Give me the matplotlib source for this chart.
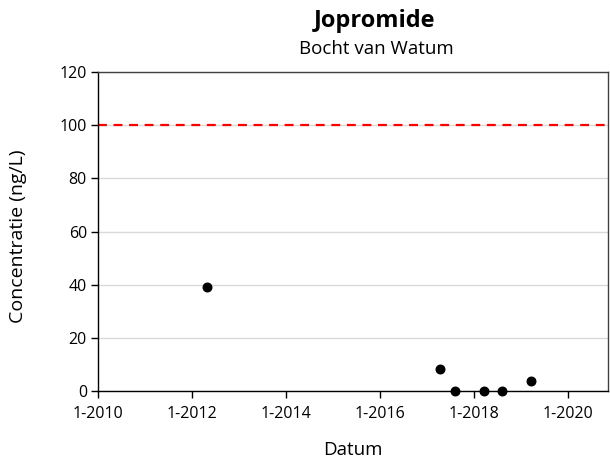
import matplotlib
matplotlib.use("Agg")
import matplotlib.pyplot as plt
import pandas as pd

plt.rcParams['font.family'] = ['Open Sans', 'DejaVu Sans']

dates = pd.to_datetime(["2012-04-25", "2017-04-15", "2017-08-10", "2018-03-25", "2018-08-10", "2019-03-25"])
values = [39.0, 8.3, 0.0, 0.0, 0.0, 3.6]
norm_value = 100
y_ticks = [0, 20, 40, 60, 80, 100, 120]
x_tick_years = [2010, 2012, 2014, 2016, 2018, 2020]

fig = plt.figure(figsize=(6.10, 4.62), dpi=100)
ax = fig.add_axes([98/610, 1-391/462, (608-98)/610, (391-72)/462])

ax.set_ylim(0, 120)
ax.set_xlim(pd.Timestamp("2010-01-01"), pd.Timestamp("2020-11-10"))
ax.set_yticks(y_ticks)
ax.yaxis.grid(True, color='#d9d9d9', linewidth=1)
ax.set_axisbelow(True)

xt = [pd.Timestamp(f"{y}-01-01") for y in x_tick_years]
ax.set_xticks(xt)
ax.set_xticklabels([f"1-{y}" for y in x_tick_years])

ax.axhline(norm_value, color='#ff0000', linestyle=(0, (4, 3)), linewidth=1.6, zorder=2)
ax.scatter(dates, values, s=38, color='black', zorder=3, clip_on=False)

for s in ax.spines.values():
    s.set_color('#404040')
    s.set_linewidth(1.0)
ax.spines['left'].set_color('black')
ax.spines['bottom'].set_color('black')
ax.tick_params(axis='both', direction='out', length=5, width=1, labelsize=11.5, colors='black', pad=3)
ax.tick_params(axis='x', pad=6)

ax.set_ylabel("Concentratie (ng/L)", fontsize=14, labelpad=8)
ax.set_xlabel("Datum", fontsize=13.5, labelpad=14)
ax.yaxis.set_label_coords(-(98-18)/510, 0.485)
ax.xaxis.set_label_coords(0.5, -(450-391)/319)
ax.xaxis.label.set_va('center')
ax.yaxis.label.set_va('center')

fig.text(375/610, 1-21/462, "Jopromide", ha='center', va='center', fontsize=17, fontweight='bold')
fig.text(376/610, 1-49/462, "Bocht van Watum", ha='center', va='center', fontsize=13.5)

fig.savefig("out.png", dpi=100)
